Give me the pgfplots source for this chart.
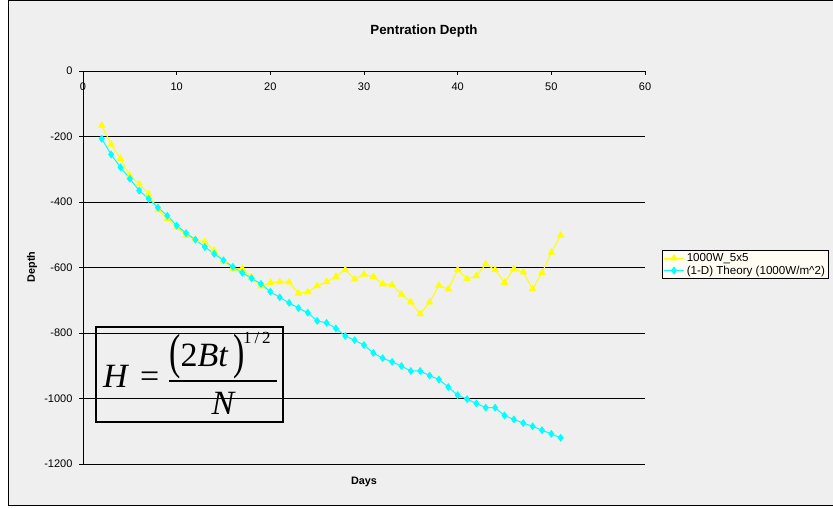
\documentclass[border=0pt]{standalone}
\usepackage{fontspec}
\setmainfont{Liberation Sans}
\newfontfamily\timesf{Liberation Serif}
\usepackage{graphicx}
\usepackage{pgfplots}
\usepackage{pgfplotstable}
\pgfplotsset{compat=1.18}
\definecolor{bgc}{HTML}{EFEFEF}
\definecolor{legbg}{HTML}{FFFDF3}
\definecolor{yel}{HTML}{FFFF00}
\definecolor{cya}{HTML}{00FFFF}

\pgfplotstableread{
x y
2 -166
3 -224
4 -268
5 -319
6 -345
7 -375
8 -424
9 -451
10 -477
11 -502
12 -515
13 -522
14 -548
15 -580
16 -604
17 -603
18 -630
19 -657
20 -646
21 -644
22 -645
23 -679
24 -675
25 -656
26 -644
27 -628
28 -607
29 -636
30 -621
31 -628
32 -651
33 -653
34 -682
35 -706
36 -742
37 -706
38 -655
39 -666
40 -607
41 -635
42 -626
43 -590
44 -607
45 -646
46 -604
47 -614
48 -666
49 -616
50 -554
51 -502
}\measured

\pgfplotstableread{
x y
2 -207
3 -255
4 -294
5 -329
6 -365
7 -390
8 -417
9 -442
10 -472
11 -495
12 -515
13 -537
14 -558
15 -578
16 -598
17 -616
18 -633
19 -650
20 -674
21 -691
22 -708
23 -724
24 -738
25 -763
26 -769
27 -786
28 -809
29 -822
30 -837
31 -861
32 -877
33 -888
34 -901
35 -916
36 -916
37 -930
38 -942
39 -965
40 -990
41 -1002
42 -1015
43 -1028
44 -1028
45 -1052
46 -1064
47 -1075
48 -1085
49 -1097
50 -1108
51 -1120
}\theory

\begin{document}
\begin{tikzpicture}
\useasboundingbox (0,0) rectangle (833pt,508pt);
\fill[white] (0,0) rectangle (833pt,508pt);
\fill[bgc] (8pt,2pt) rectangle (850pt,507pt);
\draw[black, line width=1pt] (8pt,2pt) rectangle (850pt,507pt);
\begin{axis}[
  at={(83pt,44pt)}, anchor=south west,
  scale only axis, width=562pt, height=393pt,
  xmin=0, xmax=60, ymin=-1200, ymax=0,
  axis x line*=top, axis y line*=left,
  axis line style={black, line width=0.9pt},
  xtick={0,10,...,60}, ytick={-1200,-1000,...,0},
  ymajorgrids, grid style={black, line width=0.9pt},
  tick style={black, line width=0.8pt},
  major tick length=4pt,
  xtick align=inside, ytick align=outside,
  /pgf/number format/assume math mode=true,
  /pgf/number format/1000 sep={},
  tick label style={font=\fontsize{11}{13}\selectfont},
  xticklabel style={anchor=north, yshift=-8pt},
  yticklabel style={xshift=-3pt},
  legend style={at={(1.0302,0.544)}, anchor=north west, fill=legbg, draw=black,
    line width=0.6pt, font=\fontsize{11.6}{13.5}\selectfont, inner sep=1pt,
    row sep=-1.5pt, cells={anchor=west}},
  legend image code/.code={\draw[mark repeat=2,mark phase=2,#1] plot coordinates {(0cm,0cm) (0.36cm,0cm) (0.72cm,0cm)};},
]
\addplot[yel, line width=1pt, mark=triangle*, mark size=3.4pt, mark options={fill=yel, draw=yel}] table[x=x,y=y] {\measured};
\addlegendentry{1000W\_5x5}
\addplot[cya, line width=1pt, mark=diamond*, mark size=3.2pt, mark options={fill=cya, draw=cya, line width=1pt}] table[x=x,y=y] {\theory};
\addlegendentry{(1-D) Theory (1000W/m\^{}2)}
\end{axis}
\node[font=\bfseries\fontsize{13.3}{15}\selectfont] at (424pt,477pt) {Pentration Depth};
\node[font=\bfseries\fontsize{10.8}{12}\selectfont] at (364pt,26pt) {Days};
\node[font=\bfseries\fontsize{10.8}{12}\selectfont, rotate=90] at (32pt,241pt) {Depth};
\draw[black, line width=1.8pt] (96pt,86pt) rectangle (283pt,181pt);
\begin{scope}[every node/.style={inner sep=0pt}]
\node[anchor=base west, font=\timesf\itshape\fontsize{34}{40}\selectfont] at (103pt,120pt) {H};
\node[anchor=base west, font=\timesf\fontsize{34}{40}\selectfont] at (140pt,120pt) {=};
\draw[black, line width=1.3pt] (169pt,127pt) -- (277pt,127pt);
\node[anchor=base west, font=\timesf\fontsize{34}{40}\selectfont] at (169pt,141pt) {\raisebox{-2pt}{\scalebox{1}[1.45]{(}}2{\itshape Bt}\,\raisebox{-2pt}{\scalebox{1}[1.45]{)}}};
\node[anchor=base west, font=\timesf\fontsize{17}{20}\selectfont] at (243pt,164pt) {1\,/\,2};
\node[anchor=base, font=\timesf\itshape\fontsize{34}{40}\selectfont] at (223pt,93pt) {N};
\end{scope}
\end{tikzpicture}
\end{document}
